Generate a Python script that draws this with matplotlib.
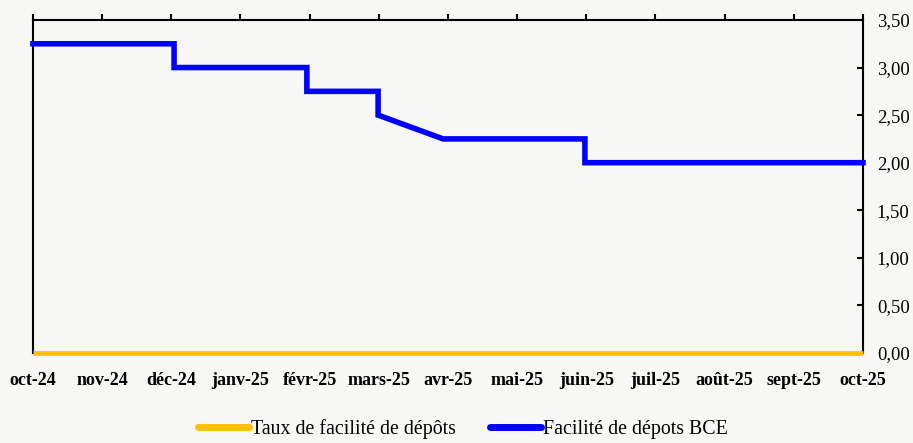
"""Facilité de dépôts BCE"""
import matplotlib
matplotlib.use('Agg')
import matplotlib.pyplot as plt
from matplotlib.ticker import FuncFormatter, MultipleLocator

months = ['oct-24', 'nov-24', 'déc-24', 'janv-25', 'févr-25', 'mars-25', 'avr-25',
          'mai-25', 'juin-25', 'juil-25', 'août-25', 'sept-25', 'oct-25']

# position in months from oct-24, value in %
bce_x = [0, 2.04, 2.04, 3.96, 3.96, 4.99, 4.99, 5.93, 7.98, 7.98, 12]
bce_y = [3.25, 3.25, 3.00, 3.00, 2.75, 2.75, 2.50, 2.25, 2.25, 2.00, 2.00]

taux_x = [0, 12]
taux_y = [0.0, 0.0]

BG = '#F7F7F3'


def main():
    plt.rcParams['font.family'] = ['Liberation Serif', 'DejaVu Serif']
    fig = plt.figure(figsize=(9.13, 4.43), dpi=100, facecolor=BG)
    ax = fig.add_axes([0.0361, 0.2032, 0.9091, 0.7517], facecolor=BG)

    ax.plot(taux_x, taux_y, color='#FFC000', linewidth=3.4,
            label='Taux de facilité de dépôts', clip_on=False, zorder=3,
            solid_capstyle='butt')
    ax.plot(bce_x, bce_y, color='#0000FF', linewidth=4.0,
            label='Facilité de dépots BCE', clip_on=False, zorder=4,
            solid_joinstyle='miter')

    ax.set_xlim(0, 12)
    ax.set_ylim(0, 3.5)

    ax.set_xticks(range(len(months)))
    ax.set_xticklabels(months, fontsize=13, fontweight='bold')
    ax.tick_params(axis='x', top=True, bottom=False, labeltop=False,
                   labelbottom=True, direction='out', length=4, width=1.5, pad=10)

    ax.yaxis.tick_right()
    ax.yaxis.set_major_locator(MultipleLocator(0.5))
    ax.yaxis.set_major_formatter(FuncFormatter(lambda v, p: f'{v:.2f}'.replace('.', ',')))
    ax.tick_params(axis='y', direction='in', length=4, width=1.5, labelsize=13.5, pad=10)

    for side in ['left', 'right', 'top']:
        ax.spines[side].set_linewidth(1.5)
    ax.spines['bottom'].set_visible(False)

    leg = fig.legend(loc='center', bbox_to_anchor=(0.507, 0.032), ncol=2, frameon=False,
                     fontsize=14.3, handlelength=2.6, handletextpad=0.1,
                     columnspacing=1.7)
    for line in leg.get_lines():
        line.set_linewidth(5)
        line.set_solid_capstyle('round')

    fig.savefig('out.png', dpi=100, facecolor=BG)


if __name__ == '__main__':
    main()
